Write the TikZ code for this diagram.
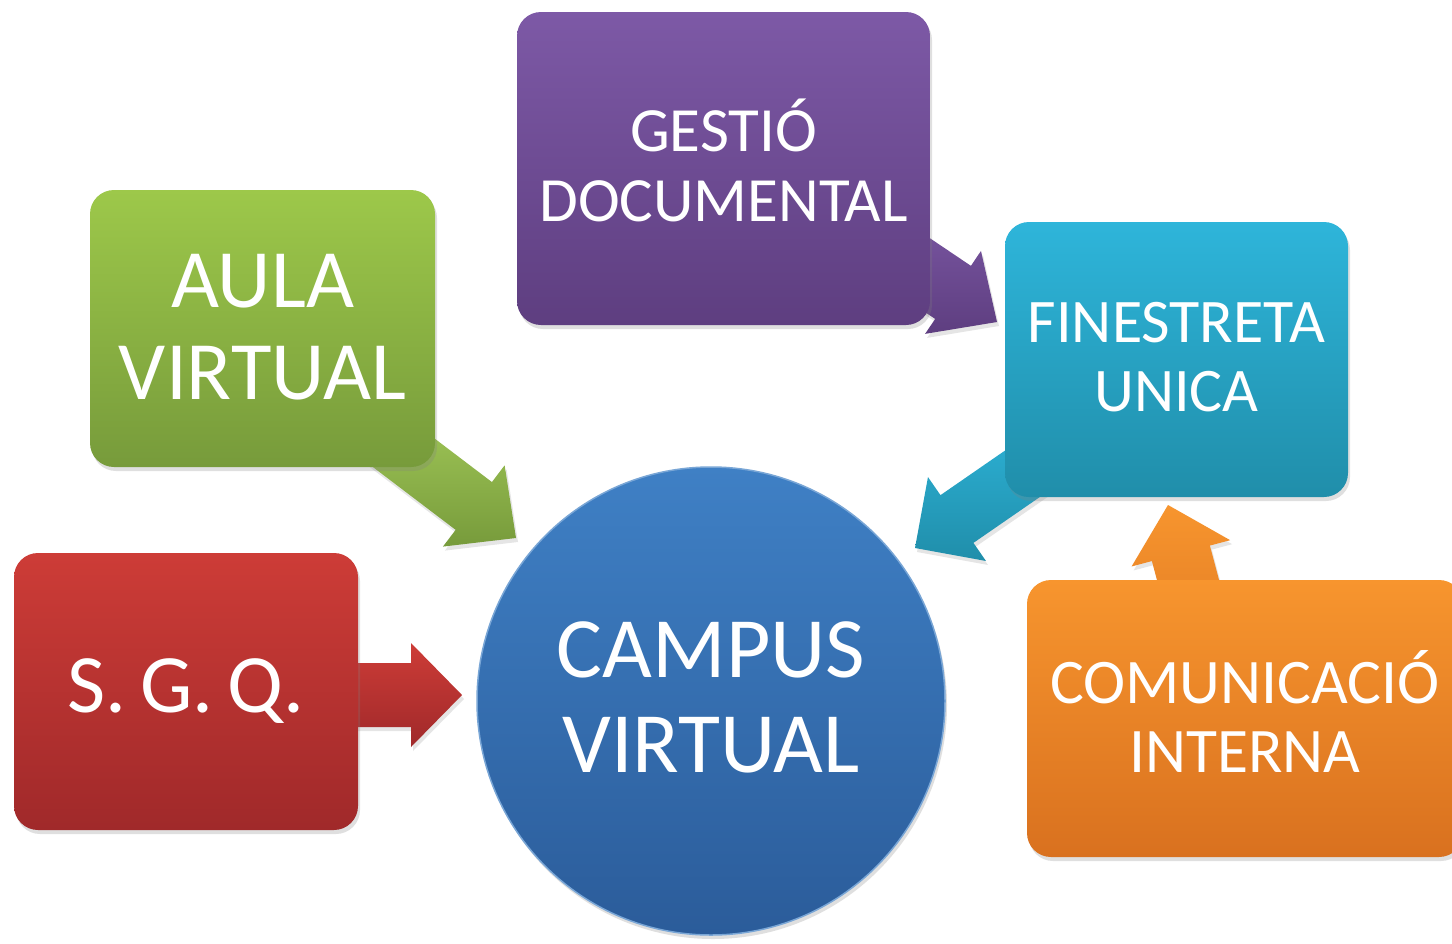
\documentclass[tikz,border=0pt]{standalone}
\usepackage{fontspec}
\setmainfont{Carlito}
\usetikzlibrary{calc,shadows}
\definecolor{purT}{HTML}{7D59A6}\definecolor{purB}{HTML}{5E3E80}
\definecolor{grnT}{HTML}{9DC84A}\definecolor{grnB}{HTML}{779B3B}
\definecolor{redT}{HTML}{CD3C37}\definecolor{redB}{HTML}{A0292A}
\definecolor{bluT}{HTML}{3F80C5}\definecolor{bluB}{HTML}{2B5C9A}
\definecolor{cyaT}{HTML}{2EB5DA}\definecolor{cyaB}{HTML}{208EAA}
\definecolor{oraT}{HTML}{F7952E}\definecolor{oraB}{HTML}{D9711F}
\tikzset{
  boxnode/.style={rectangle, rounded corners=24pt, text=white, align=center, inner sep=0pt,
    drop shadow={opacity=0.25,shadow xshift=2pt,shadow yshift=-4pt}},
  boxtext/.style={text=white, align=center, inner sep=0pt},
  arrshadow/.style={drop shadow={opacity=0.2,shadow xshift=2pt,shadow yshift=-4pt}}
}
% #1 start, #2 end, #3 shaft half width, #4 head half width, #5 head length, #6 style
\newcommand{\blockarr}[6]{%
  \coordinate (#2-neck) at ($(#2)!#5!(#1)$);
  \path[#6, arrshadow] ($(#1)!#3!90:(#2)$) -- ($(#2-neck)!#3!90:(#2)$) -- ($(#2-neck)!#4!90:(#2)$) -- (#2)
    -- ($(#2-neck)!#4!-90:(#2)$) -- ($(#2-neck)!#3!-90:(#2)$) -- ($(#1)!#3!-90:(#2)$) -- cycle;
}
\begin{document}
\begin{tikzpicture}[x=1pt,y=-1pt]
\clip (0,0) rectangle (1452,943);
\fill[white] (0,0) rectangle (1452,943);

% connector coordinates
\coordinate (gs) at (354,415);  \coordinate (ge) at (516,538);
\coordinate (ps) at (853,225);  \coordinate (pe) at (997,322);
\coordinate (cs) at (1080,434); \coordinate (ce) at (915,548);
\coordinate (os) at (1212,670); \coordinate (oe) at (1168,505);
\coordinate (rs) at (300,695);  \coordinate (re) at (462,695);

\blockarr{gs}{ge}{30pt}{51pt}{53pt}{top color=grnT!90, bottom color=grnB}
\blockarr{ps}{pe}{32pt}{50pt}{53pt}{top color=purT, bottom color=purB}
\blockarr{cs}{ce}{29pt}{51pt}{51pt}{top color=cyaT, bottom color=cyaB}
\blockarr{os}{oe}{30pt}{51pt}{50pt}{top color=oraT, bottom color=oraB!80!oraT}
\blockarr{rs}{re}{32pt}{52pt}{51pt}{top color=redT, bottom color=redB}

\node[boxnode, minimum width=413pt, minimum height=313pt, top color=purT, bottom color=purB] (gestio) at (723.5,168.5) {};
\node[boxtext, font=\fontsize{63}{70}\selectfont] (gestio-t) at ([yshift=8pt]gestio.center) {GESTIÓ\\DOCUMENTAL};
\node[boxnode, minimum width=345pt, minimum height=277pt, top color=grnT, bottom color=grnB] (aula) at (262.5,328.5) {};
\node[boxtext, font=\fontsize{83}{92}\selectfont] (aula-t) at ([yshift=1pt]aula.center) {AULA\\VIRTUAL};
\node[boxnode, minimum width=344pt, minimum height=277pt, top color=redT, bottom color=redB] (sgq) at (186,691.5) {};
\node[boxtext, font=\fontsize{83}{92}\selectfont] (sgq-t) at (sgq.center) {S.\,G.\,Q.};
\node[boxnode, minimum width=343pt, minimum height=275pt, top color=cyaT, bottom color=cyaB] (fin) at (1176.5,359.5) {};
\node[boxtext, font=\fontsize{62}{69}\selectfont] (fin-t) at ([yshift=2pt]fin.center) {FINESTRETA\\UNICA};
\node[boxnode, minimum width=436pt, minimum height=277pt, top color=oraT, bottom color=oraB] (com) at (1245,718.5) {};
\node[boxtext, font=\fontsize{63.5}{69}\selectfont] (com-t) at ([yshift=7pt]com.center) {COMUNICACIÓ\\INTERNA};
\node[circle, minimum size=468pt, inner sep=0pt,
  top color=bluT, bottom color=bluB, draw=bluT!70!white, line width=1.5pt,
  drop shadow={opacity=0.25,shadow xshift=2pt,shadow yshift=-4pt}] (campus) at (711,701) {};
\node[boxtext, font=\fontsize{86}{95}\selectfont] (campus-t) at ([yshift=4pt]campus.center) {CAMPUS\\VIRTUAL};
\end{tikzpicture}
\end{document}
